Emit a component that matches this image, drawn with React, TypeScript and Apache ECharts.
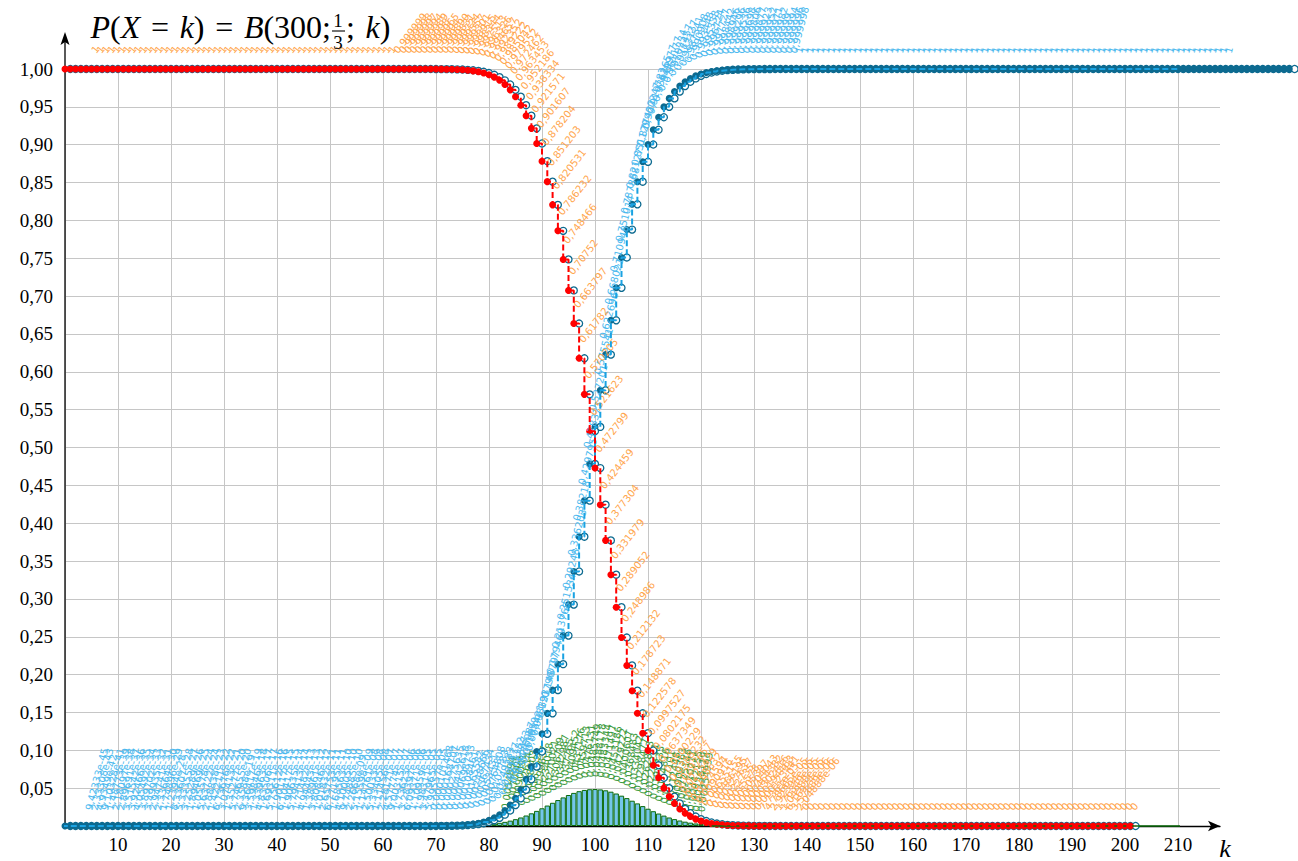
import React, { useEffect, useRef } from 'react';
import * as echarts from 'echarts';

// ---------- data ----------
// k runs from K_START upward, one value per integer k
const K_START = 0;
// value of the step functions left of k = 0 (drawn from k = -4)
const EXT_LEFT_K = -4;
const blueBefore = 0;
const redBefore = 1;

// F(k) = P(X <= k), k = 0..230
const cdfValues = [
  1.4882e-53, 2.24718e-51, 1.69111e-49, 8.45671e-48, 3.16134e-46, 9.42333e-45, 2.33308e-43, 4.9349e-42, 9.10328e-41, 1.48773e-39,
  2.18097e-38, 2.89691e-37, 3.51542e-36, 3.92466e-35, 4.05492e-34, 3.89702e-33, 3.49935e-32, 2.94741e-31, 2.33664e-30, 1.74896e-29,
  1.2394e-28, 8.33607e-28, 5.33355e-27, 3.25289e-26, 1.89469e-25, 1.05578e-24, 5.63722e-24, 2.88838e-23, 1.42211e-22, 6.73676e-22,
  3.07413e-21, 1.35277e-20, 5.74655e-20, 2.3588e-19, 9.36417e-19, 3.59846e-18, 1.33963e-17, 4.83506e-17, 1.69311e-16, 5.75612e-16,
  1.90117e-15, 6.10417e-15, 1.90635e-14, 5.79413e-14, 1.71482e-13, 4.94443e-13, 1.38961e-12, 3.80846e-12, 1.01832e-11, 2.65753e-11,
  6.77195e-11, 1.68563e-10, 4.10005e-10, 9.74885e-10, 2.2668e-9, 5.15598e-9, 1.14761e-8, 2.50033e-8, 5.33405e-8, 1.11456e-7,
  2.28171e-7, 4.57774e-7, 9.00315e-7, 1.73623e-6, 3.28397e-6, 6.09371e-6, 1.10959e-5, 1.98311e-5, 3.47965e-5, 5.99557e-5,
  0.000101468, 0.000168707, 0.000275635, 0.000442618, 0.000698733, 0.00108461, 0.00165582, 0.00248666, 0.00367434, 0.0053431,
  0.00764808, 0.0107783, 0.0149583, 0.0204477, 0.0275382, 0.0365473, 0.0478087, 0.061659, 0.078421, 0.098393,
  0.121796, 0.148797, 0.179469, 0.213768, 0.251534, 0.29248, 0.336203, 0.38218, 0.429795, 0.478377,
  0.527201, 0.575541, 0.622696, 0.668021, 0.710948, 0.751014, 0.787868, 0.821277, 0.851129, 0.877422,
  0.900247, 0.919783, 0.936265, 0.949977, 0.961177, 0.970234, 0.977457, 0.983137, 0.987541, 0.990908,
  0.993448, 0.995338, 0.996724, 0.997727, 0.998442, 0.998946, 0.999296, 0.999536, 0.999698, 0.999806,
  0.999877, 0.999923, 0.999952, 0.999971, 0.999982, 0.99999, 0.999994, 0.999996, 0.999998, 1,
  1, 1, 1, 1, 1, 1, 1, 1, 1, 1,
  1, 1, 1, 1, 1, 1, 1, 1, 1, 1,
  1, 1, 1, 1, 1, 1, 1, 1, 1, 1,
  1, 1, 1, 1, 1, 1, 1, 1, 1, 1,
  1, 1, 1, 1, 1, 1, 1, 1, 1, 1,
  1, 1, 1, 1, 1, 1, 1, 1, 1, 1,
  1, 1, 1, 1, 1, 1, 1, 1, 1, 1,
  1, 1, 1, 1, 1, 1, 1, 1, 1, 1,
  1, 1, 1, 1, 1, 1, 1, 1, 1, 1,
  1, 1
];

// P(X > k), k = 0..200
const tailValues = [
  1, 1, 1, 1, 1, 1, 1, 1, 1, 1,
  1, 1, 1, 1, 1, 1, 1, 1, 1, 1,
  1, 1, 1, 1, 1, 1, 1, 1, 1, 1,
  1, 1, 1, 1, 1, 1, 1, 1, 1, 1,
  1, 1, 1, 1, 1, 1, 1, 1, 1, 1,
  1, 1, 1, 1, 1, 1, 1, 1, 1, 1,
  1, 1, 0.999999, 0.999998, 0.999997, 0.999994, 0.999989, 0.99998, 0.999965, 0.99994,
  0.999899, 0.999831, 0.999724, 0.999557, 0.999301, 0.998915, 0.998344, 0.997513, 0.996326, 0.994657,
  0.992352, 0.989222, 0.985042, 0.979552, 0.972462, 0.963453, 0.952186, 0.938334, 0.921571, 0.901607,
  0.878204, 0.851203, 0.820531, 0.786232, 0.748466, 0.70752, 0.663797, 0.61782, 0.570205, 0.521623,
  0.472799, 0.424459, 0.377304, 0.331979, 0.289052, 0.248986, 0.212132, 0.178723, 0.148871, 0.122578,
  0.0997527, 0.0802175, 0.0637349, 0.0500229, 0.0388232, 0.0297657, 0.0225429, 0.0168632, 0.0124594, 0.0090916,
  0.00655155, 0.00466195, 0.00327637, 0.0022735, 0.0015578, 0.00105397, 0.000704043, 0.000464382, 0.000302416, 0.000194463,
  0.000123441, 7.7361e-5, 4.78665e-5, 2.92394e-5, 1.76349e-5, 1.04988e-5, 6.16974e-6, 3.57889e-6, 2.04888e-6, 0,
  0, 0, 0, 0, 0, 0, 0, 0, 0, 0,
  0, 0, 0, 0, 0, 0, 0, 0, 0, 0,
  0, 0, 0, 0, 0, 0, 0, 0, 0, 0,
  0, 0, 0, 0, 0, 0, 0, 0, 0, 0,
  0, 0, 0, 0, 0, 0, 0, 0, 0, 0,
  0, 0, 0, 0, 0, 0, 0, 0, 0, 0,
  0, 0
];

// P(X = k), k = 78..122
const PMF_K_START = 78;
const pmfValues = [
  0.00118768, 0.00166876, 0.00230498, 0.00313022, 0.00418, 0.0054894, 0.0070905, 0.0090091, 0.0112614, 0.0138503,
  0.016762, 0.0199637, 0.0234018, 0.0270021, 0.0306709, 0.0342987, 0.037765, 0.0409452, 0.0437176, 0.0459713,
  0.0476131, 0.0485749, 0.0488178, 0.0483344, 0.0471497, 0.0453186, 0.0429222, 0.0400607, 0.0368483, 0.0334042,
  0.0298477, 0.0262883, 0.0228231, 0.0195335, 0.0164816, 0.0137101, 0.0112448, 0.00909363, 0.00725146, 0.00570211,
  0.00442155, 0.00338119, 0.00254999, 0.00189669, 0.00139144
];
// P(X = k) is ~0 beyond the bars
const pmfTailK = [122, 213];
const pmfTailP = [0, 0];

// labels are written for k in these ranges
const LABEL_FROM_K = 5;
const BLUE_LABEL_TO_K = 220;
const PMF_LABEL_FROM_K = 83;
const PMF_LABEL_TO_K = 120;

const xTicks = { min: 0, max: 210, interval: 10 };
const yTicks = { min: 0, max: 1, interval: 0.05 };

// ---------- helpers ----------
function fmt(v: number): string {
  if (v === 0) return '0';
  if (Math.abs(v) < 1e-4) {
    const parts = v.toExponential(5).split('e');
    const m = parts[0].replace(/\.?0+$/, '');
    const ex = parseInt(parts[1], 10);
    const es = (ex < 0 ? '-' : '+') + String(Math.abs(ex)).padStart(2, '0');
    return (m + 'e' + es).replace('.', ',');
  }
  return String(Number(v.toPrecision(6))).replace('.', ',');
}

const BLUE_DOT = '#0c6a90';
const BLUE_LINE = '#1aa2e2';
const RED = '#ff0000';
const ORANGE_LABEL = '#ffa54c';
const CYAN_LABEL = '#4cb9ee';
const GREEN_LABEL = '#3d9b3d';
const SERIF = 'Liberation Serif';
const SP = '\u2004';

export default function App() {
  const ref = useRef<HTMLDivElement>(null);

  useEffect(() => {
    if (!ref.current) return;
    const chart = echarts.init(ref.current, undefined, { renderer: 'svg' });

    const blueDots = cdfValues.map((v, i) => [K_START + i, v]);
    const blueOpen = cdfValues.map((v, i) => [K_START + i + 1, v]);
    const blueStep = [[EXT_LEFT_K, blueBefore], ...blueDots, blueOpen[blueOpen.length - 1]];
    const redDots = tailValues.map((v, i) => [K_START + i, v]);
    const redOpen = tailValues.map((v, i) => [K_START + i + 1, v]);
    const redStep = [[EXT_LEFT_K, redBefore], ...redDots, redOpen[redOpen.length - 1]];
    const pmfData = pmfValues.map((v, i) => [PMF_K_START + i, v]);
    const pmfTail = pmfTailK.map((k, i) => [k, pmfTailP[i]]);

    const labelBase = { show: true, align: 'left', verticalAlign: 'middle', fontSize: 10, fontFamily: 'DejaVu Sans' };
    const titleRich = {
      i: { fontFamily: SERIF, fontStyle: 'italic', fontSize: 32, fill: '#000' },
      r: { fontFamily: SERIF, fontSize: 32, fill: '#000' },
    };

    const option: any = {
      animation: false,
      grid: [
        { left: 65, top: 69, right: 120, bottom: 35 },
        { left: 65, top: 69, right: 78, bottom: 35 },
      ],
      xAxis: [
        {
          type: 'value', gridIndex: 0, min: xTicks.min, max: xTicks.max, interval: xTicks.interval,
          axisLine: { show: false }, axisTick: { show: false },
          axisLabel: {
            margin: 9, color: '#000', fontFamily: SERIF, fontSize: 19,
            formatter: (v: number) => (v === 0 ? '' : String(v)),
          },
          splitLine: { show: true, lineStyle: { color: '#c6c6c6', width: 1 } },
        },
        {
          type: 'value', gridIndex: 1, min: 0, max: 1,
          axisLine: { show: true, symbol: ['none', 'arrow'], symbolSize: [8, 12], lineStyle: { color: '#000', width: 1.3 } },
          axisTick: { show: false }, axisLabel: { show: false }, splitLine: { show: false },
        },
      ],
      yAxis: [
        {
          type: 'value', gridIndex: 0, min: yTicks.min, max: yTicks.max, interval: yTicks.interval,
          axisLine: { show: false }, axisTick: { show: false }, axisLabel: { show: false }, splitLine: { show: false },
        },
        {
          type: 'value', gridIndex: 1, min: yTicks.min, max: yTicks.max, interval: yTicks.interval,
          axisLine: { show: false }, axisTick: { show: false },
          axisLabel: {
            margin: 12, color: '#000', fontFamily: SERIF, fontSize: 19,
            formatter: (v: number) => (v === 0 ? '' : v.toFixed(2).replace('.', ',')),
          },
          splitLine: { show: true, lineStyle: { color: '#c6c6c6', width: 1 } },
        },
      ],
      graphic: [
        { type: 'line', z: 1, shape: { x1: 65, y1: 826, x2: 65, y2: 42 }, style: { stroke: '#000', lineWidth: 1.3 } },
        { type: 'polygon', z: 1, shape: { points: [[65, 32], [60.5, 45], [65, 42], [69.5, 45]] }, style: { fill: '#000' } },
        {
          type: 'text', z: 100, style: {
            x: 331, y: 27, align: 'right', verticalAlign: 'middle',
            text: `{i|P}{r|(}{i|X}{r|${SP}=${SP}}{i|k}{r|)${SP}=${SP}}{i|B}{r|(300;}`,
            rich: titleRich,
          },
        },
        { type: 'text', z: 100, style: { x: 338, y: 20, align: 'center', verticalAlign: 'middle', text: '1', fontFamily: SERIF, fontSize: 19, fill: '#000' } },
        { type: 'line', z: 100, shape: { x1: 332, y1: 31, x2: 345, y2: 31 }, style: { stroke: '#000', lineWidth: 1.1 } },
        { type: 'text', z: 100, style: { x: 338, y: 42, align: 'center', verticalAlign: 'middle', text: '3', fontFamily: SERIF, fontSize: 19, fill: '#000' } },
        {
          type: 'text', z: 100, style: {
            x: 346, y: 27, align: 'left', verticalAlign: 'middle',
            text: `{r|;${SP}}{i|k}{r|)}`,
            rich: titleRich,
          },
        },
        { type: 'text', z: 100, style: { x: 1225, y: 848, align: 'center', verticalAlign: 'middle', text: 'k', fontFamily: SERIF, fontStyle: 'italic', fontSize: 26, fill: '#000' } },
      ],
      series: [
        {
          type: 'bar', xAxisIndex: 0, yAxisIndex: 0, data: pmfData, barWidth: 5.3,
          itemStyle: { color: '#74c6ea', borderColor: '#0b6b0b', borderWidth: 1 },
          label: { ...labelBase, position: 'top', distance: 12, rotate: 82, color: GREEN_LABEL,
            formatter: (p: any) => (p.value[0] < PMF_LABEL_FROM_K || p.value[0] > PMF_LABEL_TO_K ? '' : fmt(p.value[1])) },
        },
        {
          type: 'line', xAxisIndex: 0, yAxisIndex: 0, data: pmfTail, symbol: 'none', clip: false,
          lineStyle: { color: '#0b6b0b', width: 1.5 },
        },
        {
          type: 'line', xAxisIndex: 0, yAxisIndex: 0, data: blueStep, step: 'end', symbol: 'none', clip: false,
          lineStyle: { color: BLUE_LINE, width: 2, type: [6, 3] },
        },
        {
          type: 'scatter', xAxisIndex: 0, yAxisIndex: 0, data: blueOpen, symbolSize: 7, clip: false,
          itemStyle: { color: '#ffffff', borderColor: BLUE_DOT, borderWidth: 1.3, opacity: 1 },
        },
        {
          type: 'scatter', xAxisIndex: 0, yAxisIndex: 0, data: blueDots, symbolSize: 7, clip: false,
          itemStyle: { color: BLUE_DOT, opacity: 1 },
          label: { ...labelBase, position: [0.5, -12.5], rotate: 75, color: CYAN_LABEL,
            formatter: (p: any) => (p.value[0] < LABEL_FROM_K || p.value[0] > BLUE_LABEL_TO_K ? '' : fmt(p.value[1])) },
        },
        {
          type: 'line', xAxisIndex: 0, yAxisIndex: 0, data: redStep, step: 'end', symbol: 'none', clip: false,
          lineStyle: { color: RED, width: 2, type: [6, 3] },
        },
        {
          type: 'scatter', xAxisIndex: 0, yAxisIndex: 0, data: redOpen, symbolSize: 7, clip: false,
          itemStyle: { color: '#ffffff', borderColor: BLUE_DOT, borderWidth: 1.3, opacity: 1 },
        },
        {
          type: 'scatter', xAxisIndex: 0, yAxisIndex: 0, data: redDots, symbolSize: 7, clip: false,
          itemStyle: { color: RED, opacity: 1 },
          label: { ...labelBase, position: [5.5, -13.5], rotate: 52, color: ORANGE_LABEL,
            formatter: (p: any) => (p.value[0] < LABEL_FROM_K ? '' : fmt(p.value[1])) },
        },
      ],
    };

    chart.setOption(option);
    return () => chart.dispose();
  }, []);

  return <div ref={ref} style={{ position: 'absolute', left: 0, top: 0, width: 1298, height: 861 }} />;
}
